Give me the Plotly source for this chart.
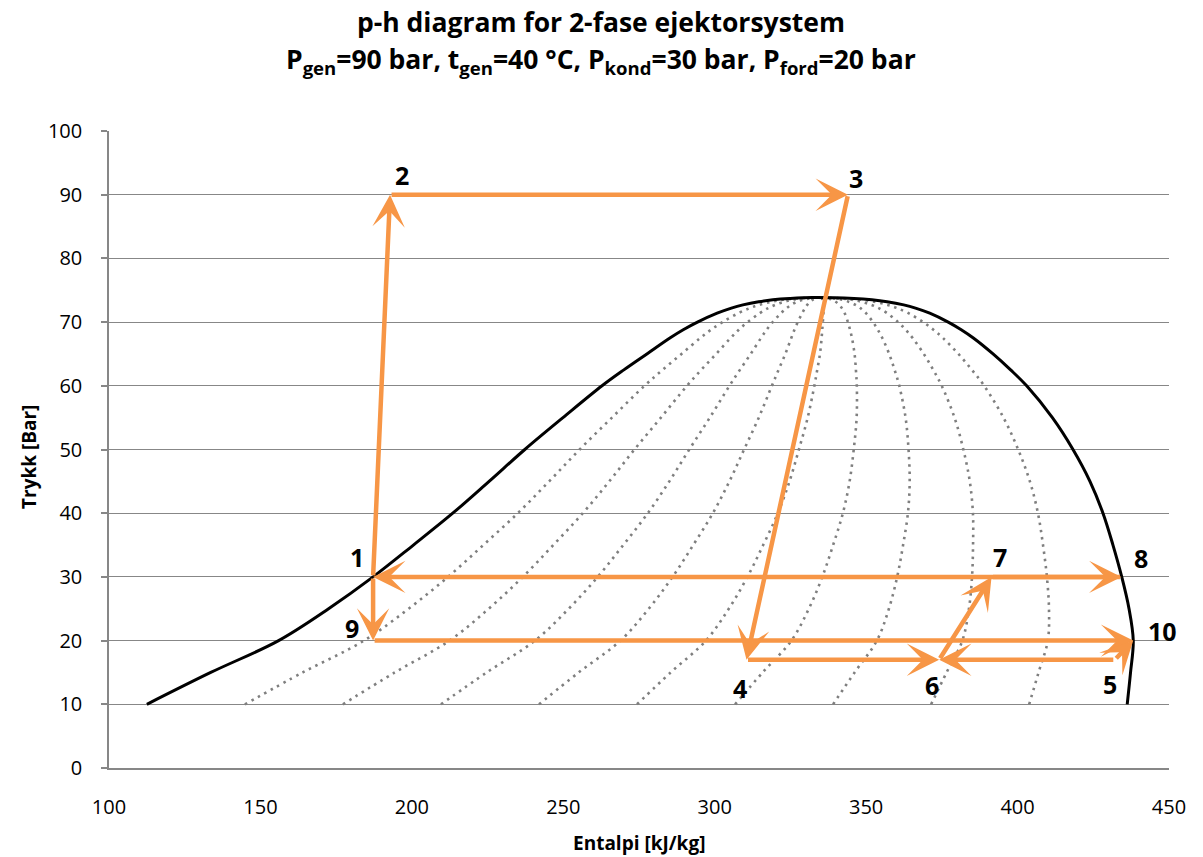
import plotly.graph_objects as go

# Saturation dome: pressure [bar], liquid / vapour enthalpy [kJ/kg]
sat_p = [10, 15, 20, 25, 30, 35, 40, 45, 50, 55, 60, 62.5, 65, 67.5, 68.8, 70,
         71.4, 72.2, 72.7, 73.2, 73.5, 73.7, 73.85]
sat_hf = [112.5, 133.6, 156.0, 172.5, 187.2, 200.5, 213.5, 225.5, 237.3, 249.9, 262.8,
          270.0, 277.6, 285.2, 289.6, 294.3, 300.8, 305.5, 309.3, 314.5, 319.2, 324.7, 332.4]
sat_hg = [436.2, 437.3, 438.2, 436.8, 434.4, 431.5, 428.2, 423.9, 418.3, 411.5, 403.0,
          397.7, 391.9, 385.4, 381.4, 377.1, 371.0, 366.3, 362.4, 356.9, 351.9, 346.0, 332.4]

# Vapour quality lines shown (dotted)
qualities = [0.1, 0.2, 0.3, 0.4, 0.5, 0.6, 0.7, 0.8, 0.9]

# Cycle state points
pt_labels = ["1", "2", "3", "4", "5", "6", "7", "8", "9", "10"]
pt_h = [187.2, 192.8, 344.0, 310.5, 432.1, 374.1, 391.4, 434.3, 187.2, 438.2]
pt_p = [30, 90, 90, 17, 17, 17, 30, 30, 20, 20]

# Process arrows (from label -> to label)
arrows_from = ["1", "2", "3", "4", "5", "6", "7", "8", "1", "9", "5"]
arrows_to = ["2", "3", "4", "6", "6", "7", "8", "1", "9", "10", "10"]

ORANGE = "#F79646"
GRID = "#878787"
FONT = "Open Sans"

fig = go.Figure()

# quality lines
for q in qualities:
    hx = [hf + q * (hg - hf) for hf, hg in zip(sat_hf, sat_hg)]
    fig.add_trace(go.Scatter(
        x=hx, y=sat_p, mode="lines",
        line=dict(color="#7f7f7f", width=2.6, dash="2.5px,4.8px", shape="spline", smoothing=1),
        hoverinfo="skip", showlegend=False))

# dome
dome_h = sat_hf + sat_hg[-2::-1]
dome_p = sat_p + sat_p[-2::-1]
fig.add_trace(go.Scatter(
    x=dome_h, y=dome_p, mode="lines",
    line=dict(color="black", width=3, shape="spline", smoothing=1),
    hoverinfo="skip", showlegend=False))

idx = {lab: i for i, lab in enumerate(pt_labels)}
annotations = []
for a, b in zip(arrows_from, arrows_to):
    ia, ib = idx[a], idx[b]
    annotations.append(dict(
        x=pt_h[ib], y=pt_p[ib], ax=pt_h[ia], ay=pt_p[ia],
        xref="x", yref="y", axref="x", ayref="y",
        showarrow=True, arrowhead=3, arrowsize=1.2, arrowwidth=4.5,
        arrowcolor=ORANGE, standoff=0, text=""))

label_shift = {
    "1": (-16, 20), "2": (12, 20), "3": (8, 17), "4": (-7, -28), "5": (-5, -24),
    "6": (-7, -25), "7": (8, 20), "8": (20, 19), "9": (-21, 13), "10": (29, 10),
}
for lab, h, p in zip(pt_labels, pt_h, pt_p):
    dx, dy = label_shift[lab]
    annotations.append(dict(
        x=h, y=p, xref="x", yref="y", text="<b>%s</b>" % lab, showarrow=False,
        xshift=dx, yshift=dy, font=dict(family=FONT, size=25, color="black")))

# title lines
title_x = (601 - 109) / 1060
annotations.append(dict(
    x=title_x, y=1 + (131 - 22) / 637, xref="paper", yref="paper", showarrow=False,
    text="<b>p-h diagram for 2-fase ejektorsystem</b>",
    font=dict(family=FONT, size=26.5, color="black"), yanchor="middle"))
annotations.append(dict(
    x=title_x, y=1 + (131 - 61) / 637, xref="paper", yref="paper", showarrow=False,
    text="<b>P<sub>gen</sub>=90 bar, t<sub>gen</sub>=40 °C, P<sub>kond</sub>=30 bar, "
         "P<sub>ford</sub>=20 bar</b>",
    font=dict(family=FONT, size=26.5, color="black"), yanchor="middle"))

# axis titles
annotations.append(dict(
    x=0.5, y=-(843 - 768) / 637, xref="paper", yref="paper", showarrow=False,
    text="<b>Entalpi [kJ/kg]</b>", yanchor="middle",
    font=dict(family=FONT, size=19, color="black")))
annotations.append(dict(
    x=-(109 - 29) / 1060, y=(768 - 457) / 637, xref="paper", yref="paper", showarrow=False,
    text="<b>Trykk [Bar]</b>", textangle=-90, xanchor="center", yanchor="middle",
    font=dict(family=FONT, size=19, color="black")))

fig.update_layout(
    width=1203, height=857,
    margin=dict(l=109, r=34, t=131, b=89),
    paper_bgcolor="white", plot_bgcolor="white",
    font=dict(family=FONT, color="black"),
    annotations=annotations,
    showlegend=False,
)
fig.update_xaxes(
    range=[100, 450], dtick=50, tick0=100, showgrid=False, zeroline=False,
    showline=True, linecolor=GRID, linewidth=1.5, automargin=False,
    ticks="", ticklabelstandoff=20, tickfont=dict(family=FONT, size=20, color="black"),
)
fig.update_yaxes(
    range=[0, 100], dtick=10, showgrid=True, gridcolor=GRID, gridwidth=1.4,
    zeroline=False, showline=True, linecolor=GRID, linewidth=1.5, automargin=False,
    ticks="outside", ticklen=6, tickcolor=GRID, tickwidth=1.5, ticklabelstandoff=15,
    tickfont=dict(family=FONT, size=20, color="black"),
)

fig.write_html("out.html")
